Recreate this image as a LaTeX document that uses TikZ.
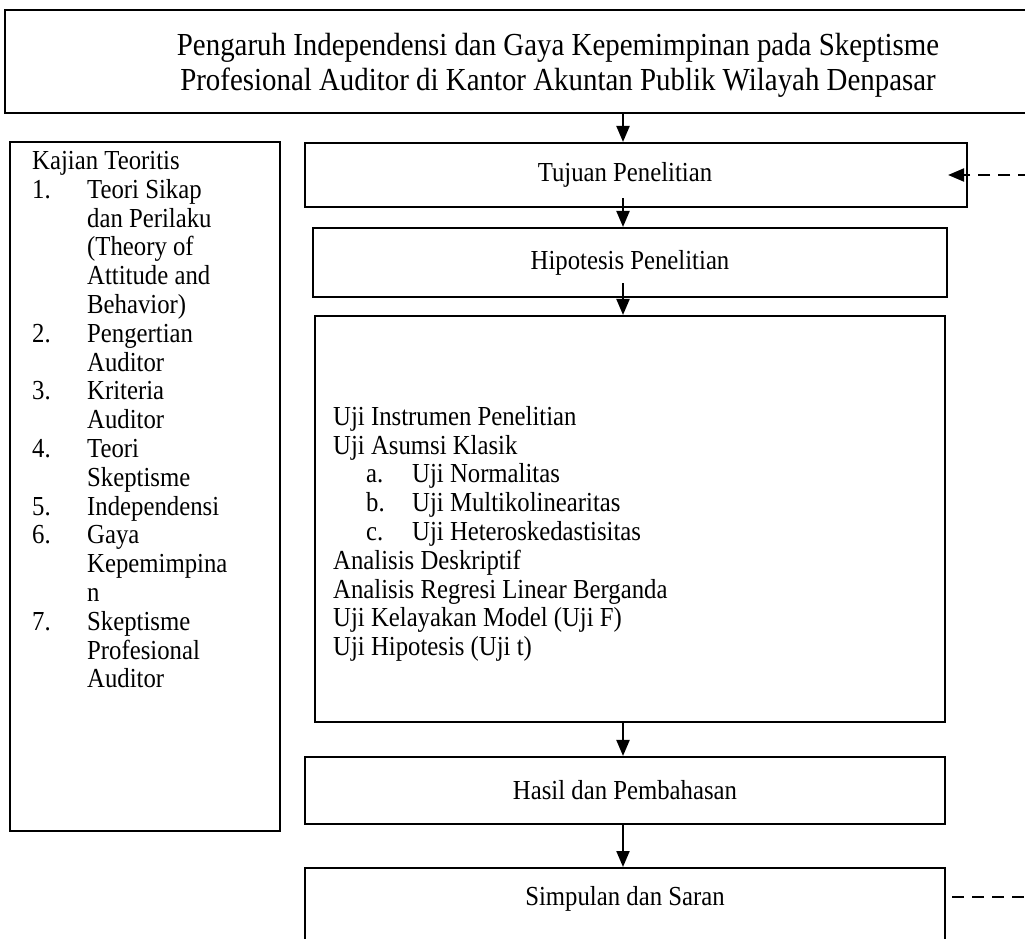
\documentclass[tikz,border=0pt]{standalone}
\usepackage{fontspec}
\setmainfont{Liberation Serif}[FakeStretch=0.9]
\usetikzlibrary{arrows.meta,positioning}

\begin{document}
\begin{tikzpicture}[x=1pt,y=-1pt,
	box/.style={draw,line width=2.1pt,inner sep=0pt},
	arr/.style={line width=2.1pt,-{Triangle[length=16pt,width=13pt]}},
	dashln/.style={line width=2.1pt,dash pattern=on 12pt off 8pt},
	every node/.style={font=\fontsize{27.5}{28.8}\selectfont}]
		\def\kitm#1#2{\makebox[55pt][l]{#1}#2}
		\def\kind#1{\hspace*{55pt}#1}
		\def\kitmsub#1#2{\hspace*{33pt}\makebox[46pt][l]{#1}#2}
		\useasboundingbox (0,0) rectangle (1025,938);
		\clip (0,0) rectangle (1025,938);
		\coordinate (ax) at (623,0);
		%Judul
		\node[box,minimum width=1106pt,minimum height=103pt,align=center,font=\fontsize{32.1}{35}\selectfont] (judul) at (558,61.5) {\rule{0pt}{30pt}Pengaruh Independensi dan Gaya Kepemimpinan pada Skeptisme\\Profesional Auditor di Kantor Akuntan Publik Wilayah Denpasar};
		%Kajian teoritis
		\node[box,minimum width=270pt,minimum height=689pt] (kajian) at (145,486.5) {};
		\node[anchor=north west,align=left,inner sep=0pt] (kajiantext) at (32,151) {Kajian Teoritis\\
			\kitm{1.}{Teori Sikap}\\ \kind{dan Perilaku}\\ \kind{(Theory of}\\ \kind{Attitude and}\\ \kind{Behavior)}\\
			\kitm{2.}{Pengertian}\\ \kind{Auditor}\\
			\kitm{3.}{Kriteria}\\ \kind{Auditor}\\
			\kitm{4.}{Teori}\\ \kind{Skeptisme}\\
			\kitm{5.}{Independensi}\\
			\kitm{6.}{Gaya}\\ \kind{Kepemimpina}\\ \kind{n}\\
			\kitm{7.}{Skeptisme}\\ \kind{Profesional}\\ \kind{Auditor}};
		%Alur
		\node[box,minimum width=662pt,minimum height=64pt] (tujuan) at (636,175) {Tujuan Penelitian\hspace*{22pt}};
		\node[box,minimum width=634pt,minimum height=69pt] (hipotesis) at (630,262.5) {Hipotesis Penelitian};
		\node[box,minimum width=630pt,minimum height=406pt] (uji) at (630,519) {};
		\node[anchor=north west,align=left,inner sep=0pt] (ujitext) at (333,406) {Uji Instrumen Penelitian\\
			Uji Asumsi Klasik\\
			\kitmsub{a.}{Uji Normalitas}\\
			\kitmsub{b.}{Uji Multikolinearitas}\\
			\kitmsub{c.}{Uji Heteroskedastisitas}\\
			Analisis Deskriptif\\
			Analisis Regresi Linear Berganda\\
			Uji Kelayakan Model (Uji F)\\
			Uji Hipotesis (Uji t)};
		\node[box,minimum width=640pt,minimum height=67pt] (hasil) at (625,790.5) {Hasil dan Pembahasan};
		\node[box,anchor=north,minimum width=640pt,text height=37pt,text depth=70pt] (simpulan) at (625,867) {Simpulan dan Saran};
		%Panah
		\draw[arr] (judul.south -| ax) -- (tujuan.north -| ax);
		\draw[arr] ([yshift=10pt]tujuan.south -| ax) -- (hipotesis.north -| ax);
		\draw[arr] ([yshift=15pt]hipotesis.south -| ax) -- (uji.north -| ax);
		\draw[arr] (uji.south -| ax) -- (hasil.north -| ax);
		\draw[arr] (hasil.south -| ax) -- (simpulan.north -| ax);
		%Umpan balik
		\coordinate (fb) at (1030,175);
		\coordinate (fs) at (1030,897);
		\draw[dashln,arr] (fb) -- ([xshift=-20pt]tujuan.east);
		\draw[dashln] ([xshift=6pt]simpulan.east |- fs) -- (fs);
\end{tikzpicture}
\end{document}
